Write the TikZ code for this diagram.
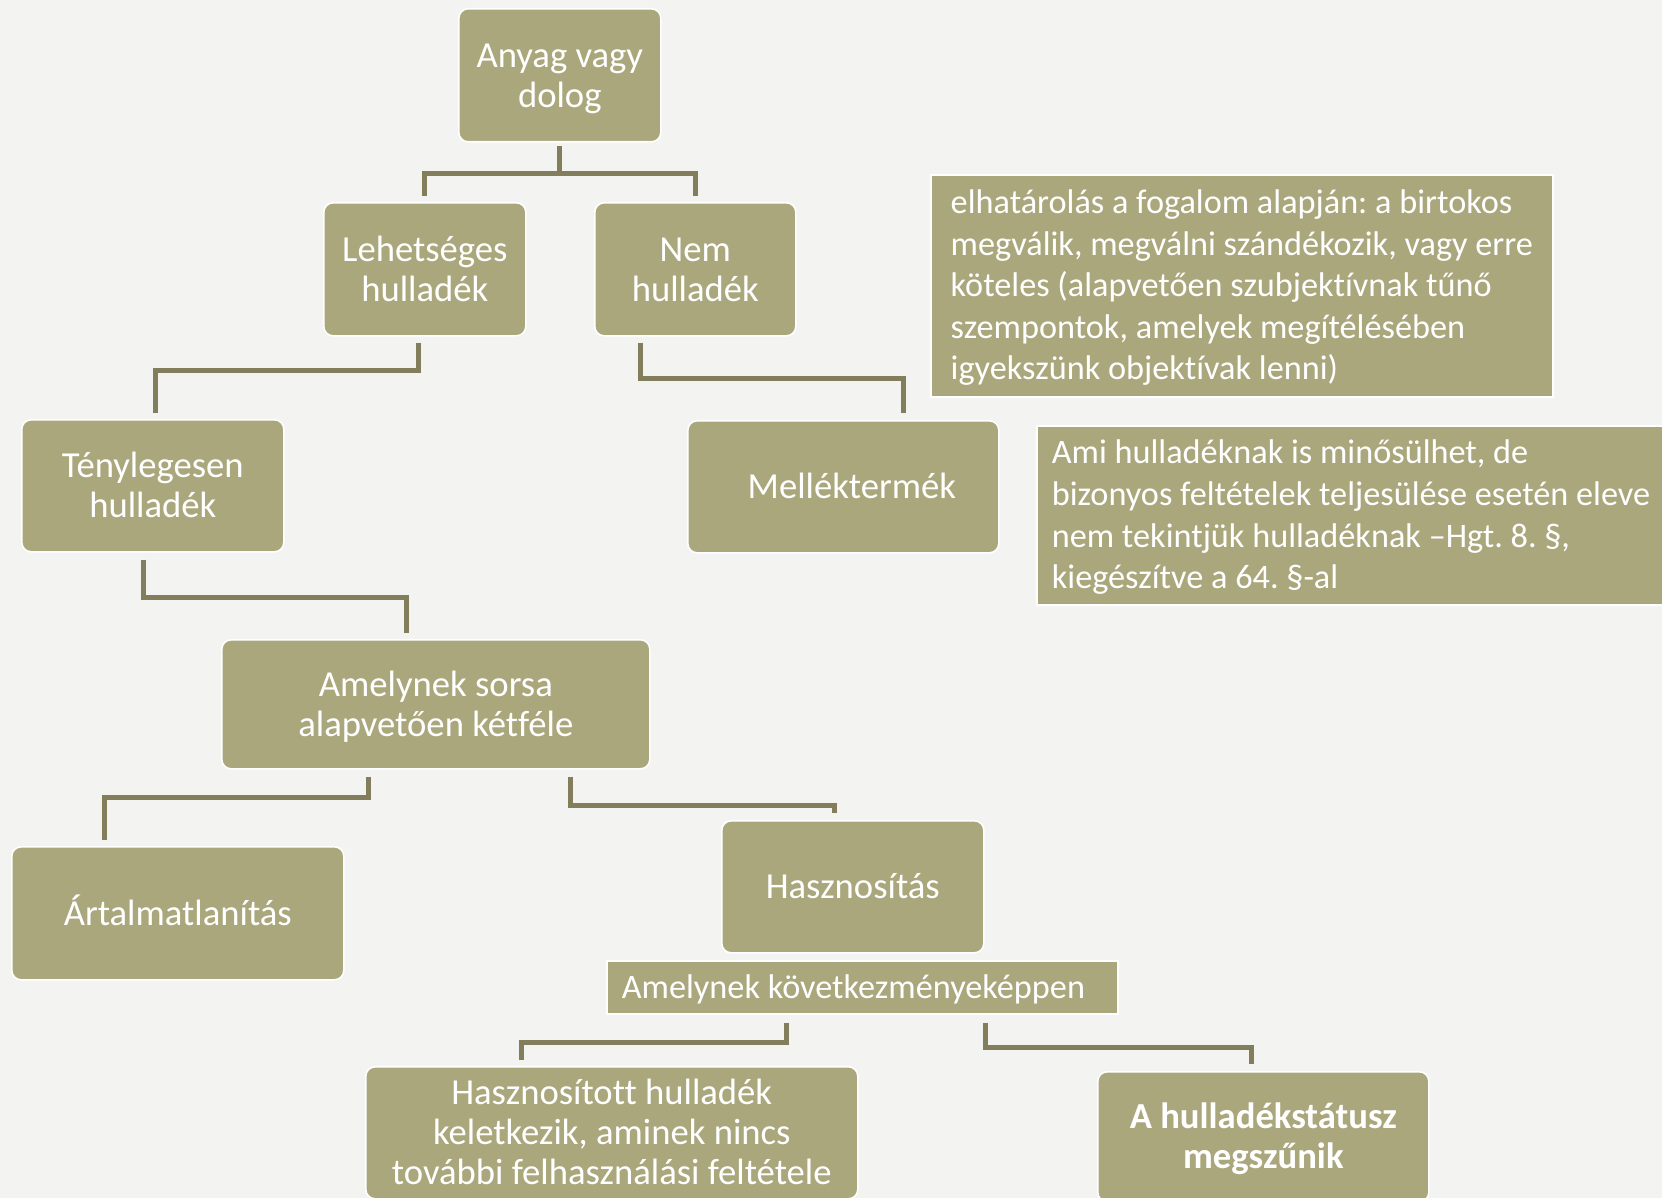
\documentclass[tikz,border=0pt]{standalone}
\usepackage{fontspec}
\setmainfont{Carlito}[RawFeature={-liga}]
\usetikzlibrary{calc}
\definecolor{bg}{HTML}{F3F3F1}
\definecolor{boxfill}{HTML}{AAA77D}
\definecolor{conncol}{HTML}{827E5C}
\newcommand\ls{\rule[-0.18em]{0pt}{1em}}
\frenchspacing
\tikzset{
 base/.style={fill=boxfill, draw=white, line width=1.2pt, text=white, anchor=north west, inner sep=0pt},
 rbox/.style={base, rounded corners=7pt, align=center, font=\fontsize{27.5}{30}\selectfont},
 boldtext/.style={font=\fontsize{27.5}{30}\selectfont\bfseries},
 sbox/.style={base, align=left, font=\fontsize{25.7}{31.2}\selectfont},
 sz/.style 2 args={minimum width=#1*0.75pt, minimum height=#2*0.75pt},
 conn/.style={draw=conncol, line width=3.75pt},
}
\begin{document}
\begin{tikzpicture}[x=0.75pt,y=-0.75pt]
\fill[bg] (0,0) rectangle (1662,1198);
\useasboundingbox (0,0) rectangle (1662,1198);
% boxes
\node[rbox, sz={202}{133}] (anyag) at (458,8) {\ls Anyag vagy\\\ls dolog};
\node[rbox, sz={202}{133}] (leh) at (323,202) {\ls Lehetséges\\\ls hulladék};
\node[rbox, sz={201}{133}] (nem) at (594,202) {\ls Nem\\\ls hulladék};
\node[rbox, sz={262}{132}] (teny) at (21,419) {\ls Ténylegesen\\\ls hulladék};
\node[rbox, sz={311}{132}] (mell) at (687,420) {\ls\hspace*{12.75pt}Melléktermék};
\node[sbox, sz={622}{222}] (def) at (930,174) {\ls elhatárolás a fogalom alapján: a birtokos\\\ls megválik, megválni szándékozik, vagy erre\\\ls köteles (alapvetően szubjektívnak tűnő\\\ls szempontok, amelyek megítélésében\\\ls igyekszünk objektívak lenni)};
\node[sbox, align=flush left, sz={700}{179}, text width=670*0.75pt, inner xsep=15*0.75pt] (ami) at (1036,425) {\ls Ami hulladéknak is minősülhet, de\\\ls bizonyos feltételek teljesülése esetén eleve\\\ls nem tekintjük hulladéknak –Hgt. 8. §,\\\ls kiegészítve a 64. §-al};
\node[rbox, sz={428}{129}] (sorsa) at (221,639) {\ls Amelynek sorsa\\\ls alapvetően kétféle};
\node[rbox, sz={332}{133}] (artalm) at (11,846) {\ls Ártalmatlanítás};
\node[rbox, sz={262}{132}] (haszn) at (721,820) {\ls Hasznosítás};
\node[sbox, align=flush left, sz={511}{53}, text width=481*0.75pt, inner xsep=15*0.75pt] (kov) at (606,960) {\ls Amelynek következményeképpen};
\node[rbox, sz={492}{132}] (haszt) at (365,1066) {\ls Hasznosított hulladék\\\ls keletkezik, aminek nincs\\\ls további felhasználási feltétele};
\node[rbox, boldtext, sz={331}{130}] (ahull) at (1097,1071) {\ls A hulladékstátusz\\\ls megszűnik};
% connectors
\coordinate (j1) at ($(anyag.south)+(0,31)$);
\draw[conn] ($(anyag.south)+(0,3)$) -- (j1);
\draw[conn] ($(leh.north)+(0,-6)$) |- (j1 -| nem.north) -- ($(nem.north)+(0,-6)$);
\draw[conn] ($(leh.south)+(-6,6)$) |- ($(teny.north)+(3,-49)$) -- ($(teny.north)+(3,-6)$);
\draw[conn] ($(nem.south)+(-55,6)$) |- ($(mell.north)+(60,-42)$) -- ($(mell.north)+(60,-7)$);
\draw[conn] ($(teny.south)+(-9,7)$) |- ($(sorsa.north)+(-29,-42)$) -- ($(sorsa.north)+(-29,-6)$);
\draw[conn] ($(sorsa.south)+(-67,7)$) |- ($(artalm.north)+(-73,-49)$) -- ($(artalm.north)+(-73,-6)$);
\draw[conn] ($(sorsa.south)+(135,7)$) |- ($(haszn.north)+(-18,-15)$) -- ($(haszn.north)+(-18,-7)$);
\draw[conn] ($(kov.south)+(-76,8)$) |- ($(haszt.north)+(-90,-24)$) -- ($(haszt.north)+(-90,-6)$);
\draw[conn] ($(kov.south)+(123,8)$) |- ($(ahull.north)+(-12,-24)$) -- ($(ahull.north)+(-12,-7)$);
\end{tikzpicture}
\end{document}
